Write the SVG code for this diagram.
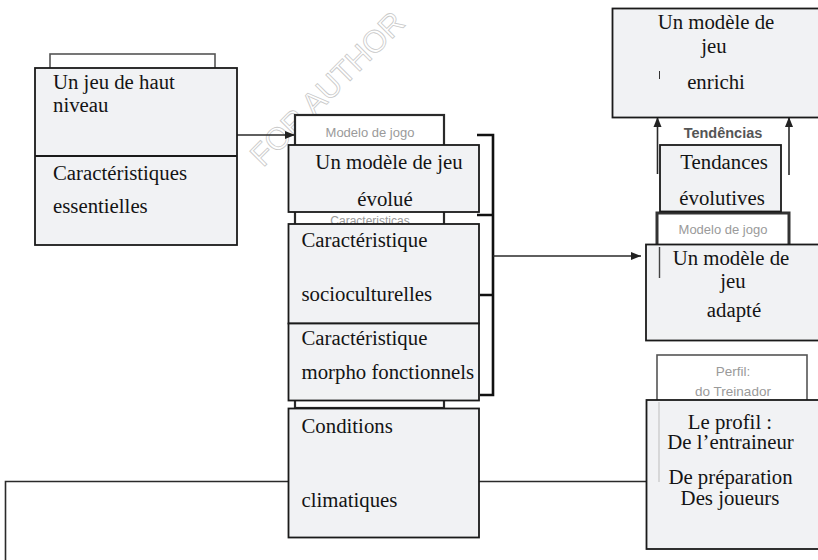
<svg xmlns="http://www.w3.org/2000/svg" width="818" height="560" viewBox="0 0 818 560">
<style>
.box{fill:#f1f2f4;stroke:#1a1a1a;stroke-width:1.8}
.under{fill:#ffffff;stroke:#555;stroke-width:1.6}
.t{font-family:"Liberation Serif","Times New Roman",serif;font-size:20.8px;fill:#141414}
.c{text-anchor:middle}
.g{font-family:"Liberation Sans",Arial,sans-serif;font-size:13px;fill:#9a9a9a;text-anchor:middle}
.conn{fill:none;stroke:#2a2a2a;stroke-width:1.6}
.br{fill:none;stroke:#111;stroke-width:2.6}
.wm{font-family:"Liberation Sans",Arial,sans-serif;font-size:31px;fill:none;stroke:#c8c8c8;stroke-width:0.8}
</style>
<defs>
<marker id="ah" markerUnits="userSpaceOnUse" markerWidth="10" markerHeight="10" viewBox="0 0 10 10" refX="10" refY="5" orient="auto">
<path d="M0,1 L10,5 L0,9 Z" fill="#222"/>
</marker>
</defs>
<rect width="818" height="560" fill="#ffffff"/>
<text class="wm" transform="translate(263,168) rotate(-45)">FOR AUTHOR</text>

<g id="background-labels">
<rect class="under" x="50" y="54" width="165" height="60"/>
<rect x="295" y="115" width="149" height="293" fill="#ffffff" stroke="#2a2a2a" stroke-width="2.2"/>
<text class="g" x="370" y="137">Modelo de jogo</text>
<text class="g" x="370" y="225" style="font-size:12px">Caracteristicas</text>
<text x="723" y="138" style="font-family:'Liberation Sans',Arial,sans-serif;font-size:14.5px;font-weight:bold;fill:#555;text-anchor:middle">Tendências</text>
<rect x="657" y="213" width="132" height="60" fill="#ffffff" stroke="#333" stroke-width="3"/>
<text class="g" x="723" y="234">Modelo de jogo</text>
<rect class="under" x="657" y="355" width="150" height="60"/>
<text class="g" x="733" y="376" style="font-size:13.5px">Perfil:</text>
<text class="g" x="733" y="396" style="font-size:13.5px">do Treinador</text>
</g>

<g id="connectors">
<line class="conn" x1="237" y1="135" x2="295" y2="135" marker-end="url(#ah)"/>
<path class="br" d="M477,135 H493 V395 H480 M477,215 H493 M480,295 H493"/>
<line class="conn" x1="493" y1="256" x2="641" y2="256" stroke-width="2" marker-end="url(#ah)"/>
<line class="conn" x1="657.5" y1="174" x2="657.5" y2="117" stroke="#444" stroke-width="2" marker-end="url(#ah)"/>
<line class="conn" x1="789" y1="175" x2="789" y2="117" stroke="#444" stroke-width="2" marker-end="url(#ah)"/>
<path class="conn" d="M5.5,560 V481.5 H288"/>
<line class="conn" x1="479" y1="481.5" x2="646" y2="481.5"/>
</g>

<g id="node-jeu-haut-niveau">
<rect class="box" x="35" y="68" width="202" height="177"/>
<line x1="35" y1="156" x2="237" y2="156" stroke="#1a1a1a" stroke-width="1.8"/>
<text class="t" x="53" y="89">Un jeu de haut</text>
<text class="t" x="53" y="112">niveau</text>
<text class="t" x="53" y="180">Caractéristiques</text>
<text class="t" x="53" y="212.5">essentielles</text>
</g>

<g id="node-modele-evolue">
<rect class="box" x="288.5" y="145" width="190.5" height="67"/>
<text class="t c" x="389" y="169">Un modèle de jeu</text>
<text class="t c" x="385" y="206">évolué</text>
</g>

<g id="node-socioculturelles">
<rect class="box" x="288.5" y="224" width="190.5" height="99.5"/>
<text class="t" x="301.5" y="246.5">Caractéristique</text>
<text class="t" x="301.5" y="301">socioculturelles</text>
</g>

<g id="node-morpho">
<rect class="box" x="288.5" y="323.5" width="190.5" height="77"/>
<text class="t" x="301.5" y="345">Caractéristique</text>
<text class="t" x="301.5" y="378.5">morpho fonctionnels</text>
</g>

<g id="node-conditions">
<rect class="box" x="288.5" y="408.5" width="190.5" height="129"/>
<text class="t" x="301.5" y="432.5">Conditions</text>
<text class="t" x="301.5" y="506.5">climatiques</text>
</g>

<g id="node-modele-enrichi">
<rect class="box" x="612.5" y="8.5" width="220" height="109"/>
<line x1="659.5" y1="71" x2="659.5" y2="79" stroke="#333" stroke-width="1"/>
<text class="t c" x="716" y="29">Un modèle de</text>
<text class="t c" x="714" y="52.5">jeu</text>
<text class="t c" x="716" y="88.5">enrichi</text>
</g>

<g id="node-tendances">
<rect class="box" x="660" y="145" width="121" height="66.5"/>
<text class="t c" x="724" y="168.5">Tendances</text>
<text class="t c" x="722" y="205">évolutives</text>
</g>

<g id="node-modele-adapte">
<rect class="box" x="646" y="244.5" width="186" height="96"/>
<line x1="659.5" y1="247" x2="659.5" y2="278" stroke="#444" stroke-width="1.4"/>
<text class="t c" x="731" y="265">Un modèle de</text>
<text class="t c" x="733" y="288">jeu</text>
<text class="t c" x="734" y="316.5">adapté</text>
</g>

<g id="node-profil">
<rect class="box" x="646.5" y="400" width="186" height="149"/>
<line x1="659" y1="402" x2="659" y2="482" stroke="#bdbdbd" stroke-width="1"/>
<text class="t c" x="730" y="429">Le profil :</text>
<text class="t c" x="730.5" y="448.5">De l’entraineur</text>
<text class="t c" x="730.5" y="483.5">De préparation</text>
<text class="t c" x="730" y="505">Des joueurs</text>
</g>
</svg>
